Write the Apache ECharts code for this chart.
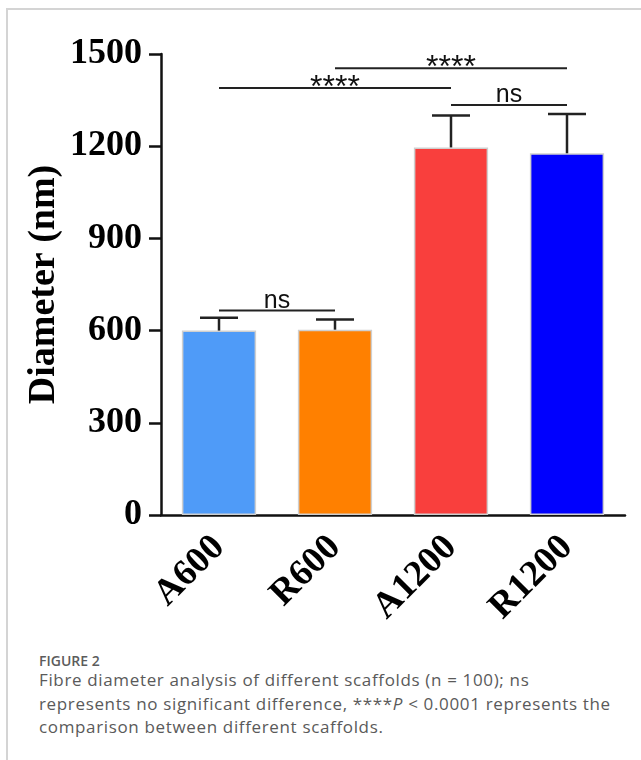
<!DOCTYPE html>
<html>
<head>
<meta charset="utf-8">
<script src="https://cdn.jsdelivr.net/npm/echarts@6/dist/echarts.min.js"></script>
<style>
  html, body { margin: 0; padding: 0; background: #fff; }
  #page { position: relative; width: 641px; height: 760px; overflow: hidden; }
  #frame { position: absolute; left: 6px; top: 8px; right: 0; bottom: 0;
           border-top: 2px solid #d4d4d4; border-left: 2px solid #d4d4d4; }
  #chart { position: absolute; left: 0; top: 0; width: 641px; height: 640px; }
  #fig { position: absolute; left: 39px; top: 651px; font-family: "Open Sans", sans-serif;
         font-size: 14px; font-weight: 600; color: #5c5c5c; }
  #cap { position: absolute; left: 39px; top: 668px; width: 600px; font-family: "Open Sans", sans-serif;
         font-size: 17px; line-height: 23.5px; letter-spacing: 0.65px; color: #5a5a5a; white-space: nowrap; }
</style>
</head>
<body>
<div id="page">
  <div id="frame"></div>
  <div id="chart"></div>
  <div id="fig">FIGURE 2</div>
  <div id="cap">Fibre diameter analysis of different scaffolds (n = 100); ns<br>represents no significant difference, ****<i>P</i> &lt; 0.0001 represents the<br>comparison between different scaffolds.</div>
</div>
<script>
// 数据
const categories = ['A600', 'R600', 'A1200', 'R1200'];
const means = [600, 603, 1196, 1177];
const sds = [42, 33, 104, 128];
const barColors = ['#4F9BF8', '#FF8000', '#F93F3D', '#0000FE'];
// 显著性标注: [起点, 终点, 高度]
const brackets = [[0, 1, 665], [0, 2, 1389], [1, 3, 1454], [2, 3, 1334]];
const bracketLabels = ['ns', '****', '****', 'ns'];

const chart = echarts.init(document.getElementById('chart'));

const serif = '"Liberation Serif", "Times New Roman", serif';

const option = {
  animation: false,
  grid: { left: 161, right: 16, top: 54, bottom: 125 },
  xAxis: {
    type: 'category',
    data: categories,
    axisLine: { lineStyle: { color: '#111', width: 2.5 } },
    axisTick: { alignWithLabel: true, length: 18, lineStyle: { color: '#111', width: 2.5 } },
    axisLabel: {
      rotate: 45, margin: 27, color: '#000',
      fontFamily: serif, fontWeight: 'bold', fontSize: 37
    }
  },
  yAxis: {
    type: 'value',
    min: 0, max: 1500, interval: 300,
    name: 'Diameter (nm)',
    nameLocation: 'middle',
    nameGap: 98,
    nameMoveOverlap: false,
    nameTextStyle: { fontFamily: serif, fontWeight: 'bold', fontSize: 38, color: '#000' },
    splitLine: { show: false },
    axisLine: { show: true, lineStyle: { color: '#111', width: 2.5 } },
    axisTick: { show: true, length: 12, lineStyle: { color: '#111', width: 2.5 } },
    axisLabel: {
      margin: 19, color: '#000', fontFamily: serif, fontWeight: 'bold', fontSize: 36,
      formatter: (v) => String(v)
    }
  },
  series: [{
    type: 'bar',
    barWidth: '64%',
    data: means.map((v, i) => ({
      value: v,
      itemStyle: { color: barColors[i], borderColor: '#cfcfcf', borderWidth: 1.5 }
    }))
  }, {
    // 误差线
    type: 'custom',
    data: means.map((v, i) => [i, v, v + sds[i]]),
    encode: { x: 0, y: [1, 2] },
    z: 3,
    renderItem: (params, api) => {
      const base = api.coord([api.value(0), api.value(1)]);
      const top = api.coord([api.value(0), api.value(2)]);
      const half = 19;
      const st = { stroke: '#222', lineWidth: 2.5 };
      return {
        type: 'group',
        children: [
          { type: 'line', shape: { x1: base[0], y1: base[1], x2: top[0], y2: top[1] }, style: st },
          { type: 'line', shape: { x1: top[0] - half, y1: top[1], x2: top[0] + half, y2: top[1] }, style: st }
        ]
      };
    }
  }, {
    // 显著性标注
    type: 'custom',
    data: brackets,
    encode: { x: [0, 1], y: 2 },
    z: 4,
    renderItem: (params, api) => {
      const a = api.coord([api.value(0), api.value(2)]);
      const b = api.coord([api.value(1), api.value(2)]);
      const label = bracketLabels[params.dataIndex];
      const stars = label !== 'ns';
      return {
        type: 'group',
        children: [
          { type: 'line', shape: { x1: a[0], y1: a[1], x2: b[0], y2: b[1] },
            style: { stroke: '#222', lineWidth: 2 } },
          { type: 'text',
            style: {
              text: label,
              x: (a[0] + b[0]) / 2,
              y: stars ? a[1] : a[1] + 3,
              align: 'center',
              verticalAlign: stars ? 'middle' : 'bottom',
              fontFamily: '"Liberation Sans", Arial, sans-serif',
              fontSize: stars ? 32 : 25,
              fill: '#111'
            } }
        ]
      };
    }
  }]
};

chart.setOption(option);
</script>
</body>
</html>
